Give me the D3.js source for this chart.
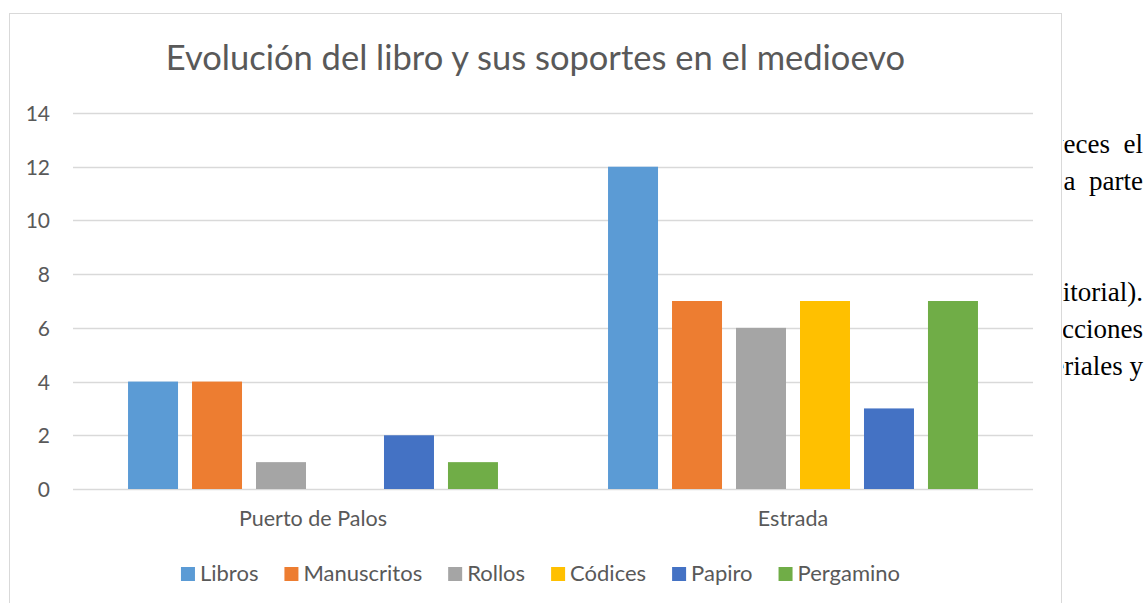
<!DOCTYPE html>
<html>
<head>
<meta charset="utf-8">
<script src="https://cdn.jsdelivr.net/npm/d3@7"></script>
<style>
    body { margin: 0; background: #fff; }
    svg { display: block; }
    .tick-label { font-family: Lato, "Open Sans", sans-serif; fill: #595959; }
</style>
</head>
<body>
<svg id="chart" width="1146" height="603"></svg>
<script>
// data
var categories = ["Puerto de Palos", "Estrada"];
var series = ["Libros", "Manuscritos", "Rollos", "Códices", "Papiro", "Pergamino"];
var colors = ["#5b9bd5", "#ed7d31", "#a5a5a5", "#ffc000", "#4472c4", "#70ad47"];
var puertoDePalos = [4, 4, 1, 0, 2, 1];
var estrada = [12, 7, 6, 7, 3, 7];
var yTicks = [0, 2, 4, 6, 8, 10, 12, 14];
var titleText = "Evolución del libro y sus soportes en el medioevo";
// fragments of the document text to the right of the chart
var sideLines = ["veces  el", "la  parte", "", "", "editorial).", "acciones", "materiales y"];

var values = [puertoDePalos, estrada];

var svg = d3.select("#chart");
var W = 1146, H = 603;

// chart frame
var frame = {left: 9.5, top: 13.5, right: 1061.5};
svg.append("rect")
    .attr("x", frame.left)
    .attr("y", frame.top)
    .attr("width", frame.right - frame.left)
    .attr("height", H + 10)
    .attr("fill", "#fff")
    .attr("stroke", "#d9d9d9")
    .attr("stroke-width", 1);

var plot = {left: 73, right: 1033, top: 113, bottom: 489};

var x0 = d3.scaleBand()
    .domain(categories)
    .range([plot.left, plot.right])
    .padding(0);

var x1 = d3.scaleBand()
    .domain(series)
    .range([0, x0.bandwidth()])
    .paddingInner(0.21875)
    .paddingOuter(0.86);

var y = d3.scaleLinear()
    .domain([0, 14])
    .range([plot.bottom, plot.top]);

var color = d3.scaleOrdinal().domain(series).range(colors);

// gridlines
svg.append("g")
    .selectAll("line")
    .data(yTicks)
    .enter().append("line")
    .attr("x1", plot.left)
    .attr("x2", plot.right)
    .attr("y1", function (d) { return Math.round(y(d)) + 0.5; })
    .attr("y2", function (d) { return Math.round(y(d)) + 0.5; })
    .attr("stroke", "#d9d9d9")
    .attr("stroke-width", 1.3);

// y axis labels
var yAxis = d3.axisLeft(y).tickValues(yTicks).tickSize(0).tickPadding(23);
var gy = svg.append("g")
    .attr("transform", "translate(" + plot.left + ",0)")
    .call(yAxis);
gy.select(".domain").remove();
gy.selectAll("text")
    .attr("class", "tick-label")
    .style("font-size", "21px")
    .attr("dy", "0.36em");

// bars
var groups = svg.append("g")
    .selectAll("g")
    .data(categories)
    .enter().append("g")
    .attr("transform", function (d) { return "translate(" + x0(d) + ",0)"; });

groups.selectAll("rect")
    .data(function (d, i) {
        return series.map(function (s, j) { return {key: s, value: values[i][j]}; });
    })
    .enter().append("rect")
    .filter(function (d) { return d.value > 0; })
    .attr("x", function (d) { return x1(d.key); })
    .attr("y", function (d) { return y(d.value); })
    .attr("width", x1.bandwidth())
    .attr("height", function (d) { return y(0) - y(d.value); })
    .attr("fill", function (d) { return color(d.key); });

// x axis labels
var xAxis = d3.axisBottom(x0).tickSize(0).tickPadding(22);
var gx = svg.append("g")
    .attr("transform", "translate(0," + plot.bottom + ")")
    .call(xAxis);
gx.select(".domain").remove();
gx.selectAll("text")
    .attr("class", "tick-label")
    .style("font-size", "21.5px");

// title
svg.append("text")
    .attr("x", (frame.left + frame.right) / 2)
    .attr("y", 70)
    .attr("text-anchor", "middle")
    .style("font-family", "Lato, 'Open Sans', sans-serif")
    .style("font-size", "34.5px")
    .style("fill", "#595959")
    .text(titleText);

// legend
var legend = svg.append("g");
var items = legend.selectAll("g")
    .data(series)
    .enter().append("g");
items.append("rect")
    .attr("width", 14)
    .attr("height", 14)
    .attr("y", -14)
    .attr("fill", function (d) { return color(d); });
items.append("text")
    .attr("class", "tick-label")
    .attr("x", 19)
    .attr("y", 0)
    .style("font-size", "22px")
    .text(function (d) { return d; });

var pos = 0;
items.each(function () {
    var w = this.getBBox().width;
    d3.select(this).attr("transform", "translate(" + pos + ",0)");
    pos += w + 26;
});
var legendWidth = pos - 26;
legend.attr("transform", "translate(" + (540.5 - legendWidth / 2) + ",581)");

// document text beside the chart, cut by the chart's edge
svg.append("clipPath").attr("id", "sideClip")
    .append("rect")
    .attr("x", frame.right + 1.5)
    .attr("y", 0)
    .attr("width", W - frame.right)
    .attr("height", H);

svg.append("g")
    .attr("clip-path", "url(#sideClip)")
    .selectAll("text")
    .data(sideLines)
    .enter().append("text")
    .attr("x", 1143)
    .attr("y", function (d, i) { return 153 + i * 37; })
    .attr("text-anchor", "end")
    .attr("xml:space", "preserve")
    .style("white-space", "pre")
    .style("font-family", "'Liberation Serif', 'Times New Roman', serif")
    .style("font-size", "27px")
    .style("fill", "#000")
    .text(function (d) { return d; });
</script>
</body>
</html>
